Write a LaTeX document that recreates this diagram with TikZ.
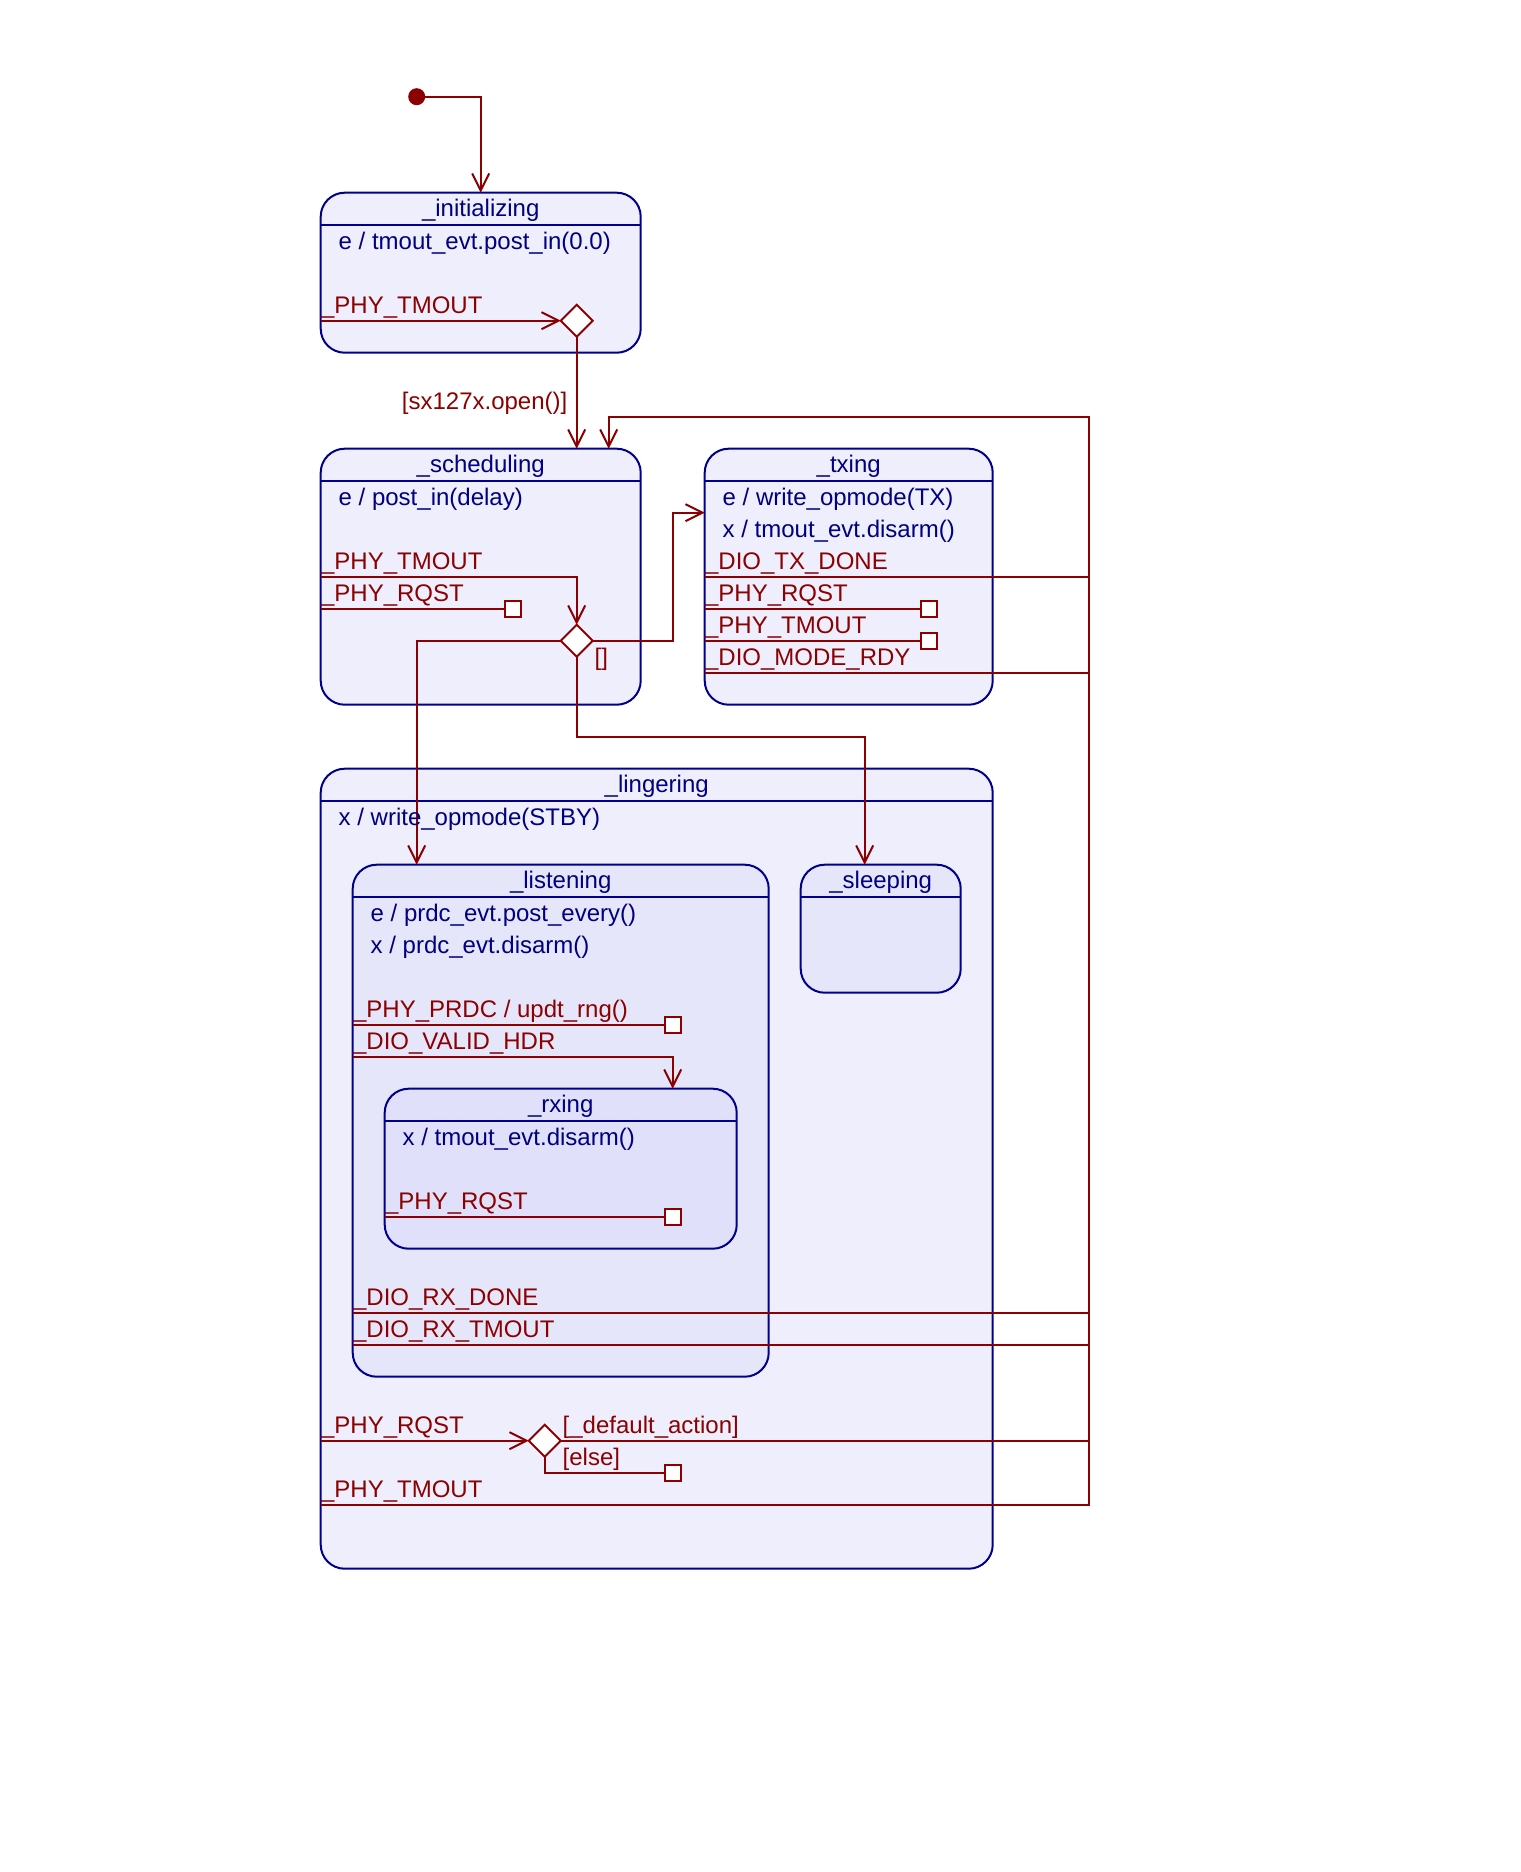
\documentclass[tikz,border=0pt]{standalone}
\usepackage{fontspec}
\setmainfont{Liberation Sans}
\usetikzlibrary{arrows.meta,shapes.geometric}
\definecolor{bord}{RGB}{0,0,140}
\definecolor{navy}{RGB}{0,0,128}
\definecolor{dred}{RGB}{139,0,0}
\definecolor{fillA}{RGB}{238,238,253}
\definecolor{fillB}{RGB}{230,230,250}
\definecolor{fillC}{RGB}{224,224,250}
\begin{document}
\begin{tikzpicture}[x=16pt,y=-16pt,
  stbox/.style={draw=bord,line width=1pt,rounded corners=12pt,inner sep=0pt,outer sep=0pt},
  hdr/.style={draw=bord,line width=1pt},
  tr/.style={draw=dred,line width=1pt},
  arr/.style={tr,-{Straight Barb[length=8.5pt,width=8.5pt,line width=1pt]}},
  sq/.style={draw=dred,fill=white,line width=1pt,minimum size=8pt,inner sep=0pt,outer sep=0pt},
  choice/.style={diamond,aspect=1,draw=dred,fill=white,line width=1pt,minimum width=16pt,minimum height=16pt,inner sep=0pt,outer sep=0pt},
  initdot/.style={circle,fill=dred,minimum size=8.5pt,inner sep=0pt,outer sep=0pt},
  ttl/.style={text=navy,anchor=base,inner sep=0pt},
  act/.style={text=navy,anchor=base west,inner sep=0pt},
  lbl/.style={text=dred,anchor=base west,inner sep=0pt},
  font=\fontsize{12pt}{14pt}\selectfont]
\useasboundingbox (-0.022,-0.022) rectangle (47.478,58.478);

% states
\node[stbox,fill=fillA,minimum width=160pt,minimum height=80pt] (init) at (15,8.5) {};
\draw[hdr] (init.west |- 0,7) -- (init.east |- 0,7);
\node[stbox,fill=fillA,minimum width=160pt,minimum height=128pt] (sched) at (15,18) {};
\draw[hdr] (sched.west |- 0,15) -- (sched.east |- 0,15);
\node[stbox,fill=fillA,minimum width=144pt,minimum height=128pt] (txing) at (26.5,18) {};
\draw[hdr] (txing.west |- 0,15) -- (txing.east |- 0,15);
\node[stbox,fill=fillA,minimum width=336pt,minimum height=400pt] (ling) at (20.5,36.5) {};
\draw[hdr] (ling.west |- 0,25) -- (ling.east |- 0,25);
\node[stbox,fill=fillB,minimum width=208pt,minimum height=256pt] (listen) at (17.5,35) {};
\draw[hdr] (listen.west |- 0,28) -- (listen.east |- 0,28);
\node[stbox,fill=fillC,minimum width=176pt,minimum height=80pt] (rx) at (17.5,36.5) {};
\draw[hdr] (rx.west |- 0,35) -- (rx.east |- 0,35);
\node[stbox,fill=fillB,minimum width=80pt,minimum height=64pt] (sleep) at (27.5,29) {};
\draw[hdr] (sleep.west |- 0,28) -- (sleep.east |- 0,28);

% pseudo states
\node[initdot] (start) at (13,3) {};
\node[choice] (d1) at (18,10) {};
\node[choice] (d2) at (18,20) {};
\node[choice] (d3) at (17,45) {};
\node[sq] (sq1) at (16,19) {};
\node[sq] (sq2) at (29,19) {};
\node[sq] (sq3) at (29,20) {};
\node[sq] (sq4) at (21,32) {};
\node[sq] (sq5) at (21,38) {};
\node[sq] (sq6) at (21,46) {};

\coordinate (schedIn2) at (19,14);
\coordinate (lnIn) at (13,27);
\coordinate (slIn) at (27,27);
\coordinate (rxIn) at (21,34);
\coordinate (busTop) at (34,13);
\coordinate (busBot) at (34,47);

% transitions
\draw[arr] (start.east) -| (init.north);
\draw[arr] (init.west |- d1) -- (d1.west);
\draw[arr] (d1.south) -- (d1.south |- sched.north);
\draw[arr] (ling.west |- busBot) -- (busBot) -- (busTop) -| (schedIn2);
\draw[arr] (sched.west |- 0,18) -| (d2.north);
\draw[tr] (sched.west |- sq1) -- (sq1.west);
\draw[arr] (d2.west) -| (lnIn);
\draw[arr] (d2.east) -| (21,16) -- (txing.west |- 0,16);
\draw[arr] (d2.south) |- (slIn |- 0,23) -- (slIn);
\draw[tr] (txing.west |- 0,18) -- (busTop |- 0,18);
\draw[tr] (txing.west |- sq2) -- (sq2.west);
\draw[tr] (txing.west |- sq3) -- (sq3.west);
\draw[tr] (txing.west |- 0,21) -- (busTop |- 0,21);
\draw[tr] (listen.west |- sq4) -- (sq4.west);
\draw[arr] (listen.west |- 0,33) -| (rxIn);
\draw[tr] (rx.west |- sq5) -- (sq5.west);
\draw[tr] (listen.west |- 0,41) -- (busTop |- 0,41);
\draw[tr] (listen.west |- 0,42) -- (busTop |- 0,42);
\draw[arr] (ling.west |- d3) -- (d3.west);
\draw[tr] (d3.east) -- (busTop |- d3);
\draw[tr] (d3.south) |- (sq6.west);

% texts
\node[ttl] (t1) at (15,6.75) {\_initializing};
\node[act] (t2) at (10.55,7.77) {e / tmout\_evt.post\_in(0.0)};
\node[lbl] (t3) at (10,9.77) {\_PHY\_TMOUT};
\node[text=dred,anchor=base east,inner sep=0pt] (t4) at (17.72,12.77) {[sx127x.open()]};

\node[ttl] (t5) at (15,14.75) {\_scheduling};
\node[act] (t6) at (10.55,15.77) {e / post\_in(delay)};
\node[lbl] (t7) at (10,17.77) {\_PHY\_TMOUT};
\node[lbl] (t8) at (10,18.77) {\_PHY\_RQST};
\node[lbl] (t9) at (18.55,20.77) {[]};

\node[ttl] (t10) at (26.5,14.75) {\_txing};
\node[act] (t11) at (22.55,15.77) {e / write\_opmode(TX)};
\node[act] (t12) at (22.55,16.77) {x / tmout\_evt.disarm()};
\node[lbl] (t13) at (22,17.77) {\_DIO\_TX\_DONE};
\node[lbl] (t14) at (22,18.77) {\_PHY\_RQST};
\node[lbl] (t15) at (22,19.77) {\_PHY\_TMOUT};
\node[lbl] (t16) at (22,20.77) {\_DIO\_MODE\_RDY};

\node[ttl] (t17) at (20.5,24.75) {\_lingering};
\node[act] (t18) at (10.55,25.77) {x / write\_opmode(STBY)};

\node[ttl] (t19) at (17.5,27.75) {\_listening};
\node[act] (t20) at (11.55,28.77) {e / prdc\_evt.post\_every()};
\node[act] (t21) at (11.55,29.77) {x / prdc\_evt.disarm()};
\node[lbl] (t22) at (11,31.77) {\_PHY\_PRDC / updt\_rng()};
\node[lbl] (t23) at (11,32.77) {\_DIO\_VALID\_HDR};

\node[ttl] (t24) at (17.5,34.75) {\_rxing};
\node[act] (t25) at (12.55,35.77) {x / tmout\_evt.disarm()};
\node[lbl] (t26) at (12,37.77) {\_PHY\_RQST};

\node[lbl] (t27) at (11,40.77) {\_DIO\_RX\_DONE};
\node[lbl] (t28) at (11,41.77) {\_DIO\_RX\_TMOUT};

\node[ttl] (t29) at (27.5,27.75) {\_sleeping};

\node[lbl] (t30) at (10,44.77) {\_PHY\_RQST};
\node[lbl] (t31) at (17.55,44.77) {[\_default\_action]};
\node[lbl] (t32) at (17.55,45.77) {[else]};
\node[lbl] (t33) at (10,46.77) {\_PHY\_TMOUT};
\end{tikzpicture}
\end{document}
